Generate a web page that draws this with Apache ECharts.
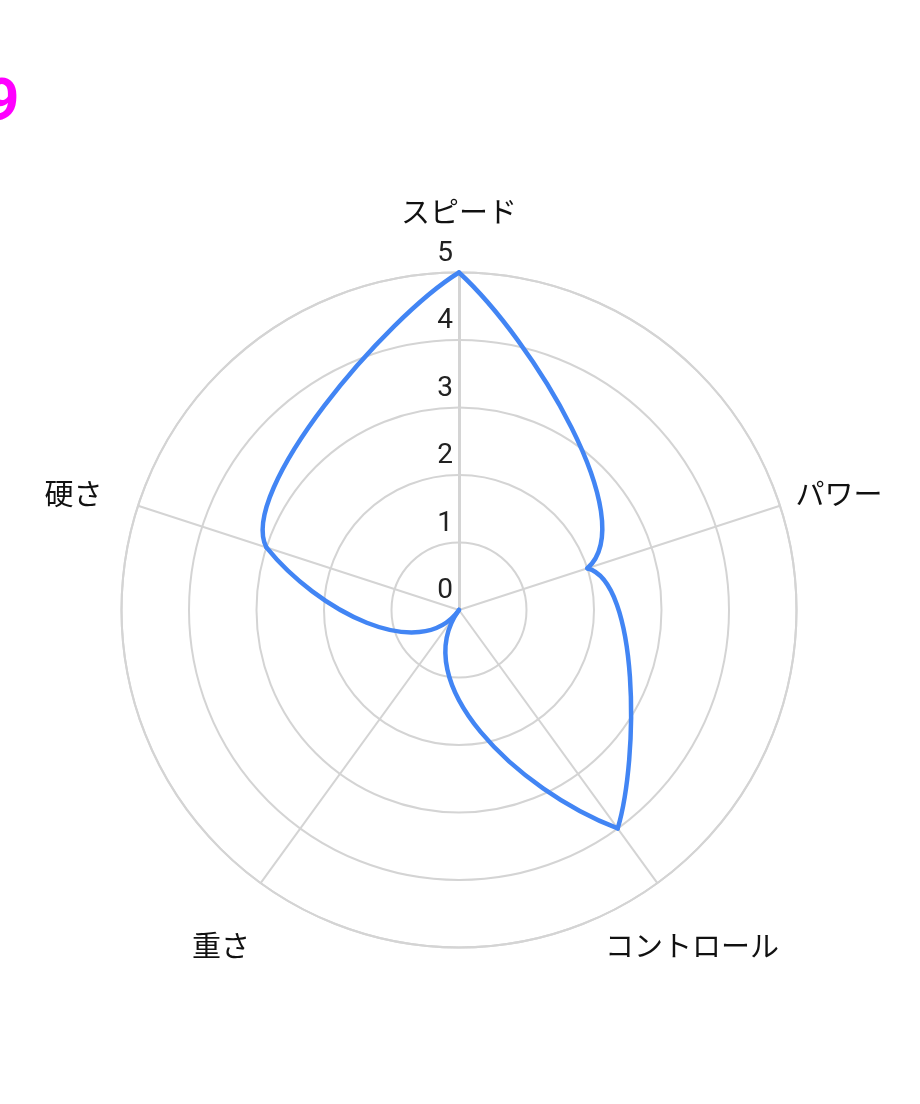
<!DOCTYPE html>
<html>
<head>
<meta charset="utf-8">
<script src="https://cdn.jsdelivr.net/npm/echarts@6/dist/echarts.min.js"></script>
<style>
  html, body { margin: 0; padding: 0; background: #fff; }
  #chart { width: 920px; height: 1104px; }
</style>
</head>
<body>
<div id="chart"></div>
<script>
// data
const titleText = '9';
const categories = ['スピード', 'パワー', 'コントロール', '重さ', '硬さ'];
const values = [5, 2, 4, 0, 3];
const axisMin = 0;
const axisMax = 5;
const axisStep = 1;

// per-label nudges so the names sit where the original had them
const namePadding = [
  [0, 0, 38, 0],
  [0, 0, -5, 8],
  [42, 0, 0, -57],
  [42, 6, 0, 0],
  [0, 28, -5, 0]
];

const gridColor = '#d4d4d4';
const lineColor = '#4285f4';
const center = [459, 610];
const radius = 337.5;
// how much the segments bend round the centre (1 = full spiral)
const bendAngular = 0.52;

function renderSegment(params, api) {
  const i = params.dataIndex;
  const j = (i + 1) % values.length;
  const c = api.coord([axisMin, i]);
  const a = api.coord([values[i], i]);
  const b = api.coord([values[j], j]);
  const ea = api.coord([axisMax, i]);
  const eb = api.coord([axisMax, j]);

  const unit = function (p) {
    const l = Math.hypot(p[0] - c[0], p[1] - c[1]);
    return [(p[0] - c[0]) / l, (p[1] - c[1]) / l];
  };
  const norm = function (v) {
    const l = Math.hypot(v[0], v[1]) || 1;
    return [v[0] / l, v[1] / l];
  };
  const ua = unit(ea);
  const ub = unit(eb);
  const dot = ua[0] * ub[0] + ua[1] * ub[1];
  const step = Math.acos(Math.max(-1, Math.min(1, dot)));
  const ta = norm([ub[0] - ua[0] * dot, ub[1] - ua[1] * dot]);
  const tb = norm([ub[0] * dot - ua[0], ub[1] * dot - ua[1]]);
  const ra = Math.hypot(a[0] - c[0], a[1] - c[1]);
  const rb = Math.hypot(b[0] - c[0], b[1] - c[1]);
  const dr = rb - ra;
  const va = [dr * ua[0] + bendAngular * ra * step * ta[0], dr * ua[1] + bendAngular * ra * step * ta[1]];
  const vb = [dr * ub[0] + bendAngular * rb * step * tb[0], dr * ub[1] + bendAngular * rb * step * tb[1]];

  return {
    type: 'bezierCurve',
    shape: {
      x1: a[0], y1: a[1],
      x2: b[0], y2: b[1],
      cpx1: a[0] + va[0] / 3, cpy1: a[1] + va[1] / 3,
      cpx2: b[0] - vb[0] / 3, cpy2: b[1] - vb[1] / 3
    },
    style: {
      stroke: lineColor,
      lineWidth: 4.5,
      fill: 'none',
      lineCap: 'round',
      lineJoin: 'round'
    }
  };
}

const chart = echarts.init(document.getElementById('chart'));

const option = {
  animation: false,
  backgroundColor: '#fff',
  title: {
    text: titleText,
    left: -20,
    top: 70,
    textStyle: {
      color: '#ff00ff',
      fontSize: 60,
      fontWeight: 'bold',
      fontFamily: 'Roboto'
    }
  },
  // polar 0: rings and value labels, polar 1: spokes and names
  polar: [
    { center: center, radius: radius },
    { center: center, radius: radius }
  ],
  angleAxis: [
    {
      polarIndex: 0,
      type: 'value',
      min: 0,
      max: 360,
      startAngle: 90,
      axisLine: { show: true, lineStyle: { color: gridColor, width: 2 } },
      axisTick: { show: false },
      axisLabel: { show: false },
      splitLine: { show: false }
    },
    {
      polarIndex: 1,
      type: 'category',
      data: categories.map(function (name, i) {
        return { value: name, textStyle: { padding: namePadding[i] } };
      }),
      boundaryGap: false,
      startAngle: 90,
      clockwise: true,
      axisLine: { show: false },
      axisTick: { show: false },
      axisLabel: {
        margin: 8,
        fontSize: 29,
        color: '#111',
        fontFamily: 'Noto Sans CJK JP'
      },
      splitLine: { show: true, lineStyle: { color: gridColor, width: 2 } }
    }
  ],
  radiusAxis: [
    {
      polarIndex: 0,
      type: 'value',
      min: axisMin,
      max: axisMax,
      interval: axisStep,
      axisLine: { show: true, lineStyle: { color: gridColor, width: 3 } },
      axisTick: { show: false },
      axisLabel: {
        margin: 6,
        fontSize: 28,
        color: '#222',
        fontFamily: 'Roboto',
        verticalAlign: 'bottom',
        lineHeight: 38
      },
      splitLine: { show: true, lineStyle: { color: gridColor, width: 2 } },
      z: 3
    },
    {
      polarIndex: 1,
      type: 'value',
      min: axisMin,
      max: axisMax,
      show: false
    }
  ],
  series: [
    {
      type: 'custom',
      coordinateSystem: 'polar',
      polarIndex: 1,
      renderItem: renderSegment,
      data: values.map(function (v, i) { return [v, i]; }),
      z: 5
    }
  ]
};

chart.setOption(option);
</script>
</body>
</html>
